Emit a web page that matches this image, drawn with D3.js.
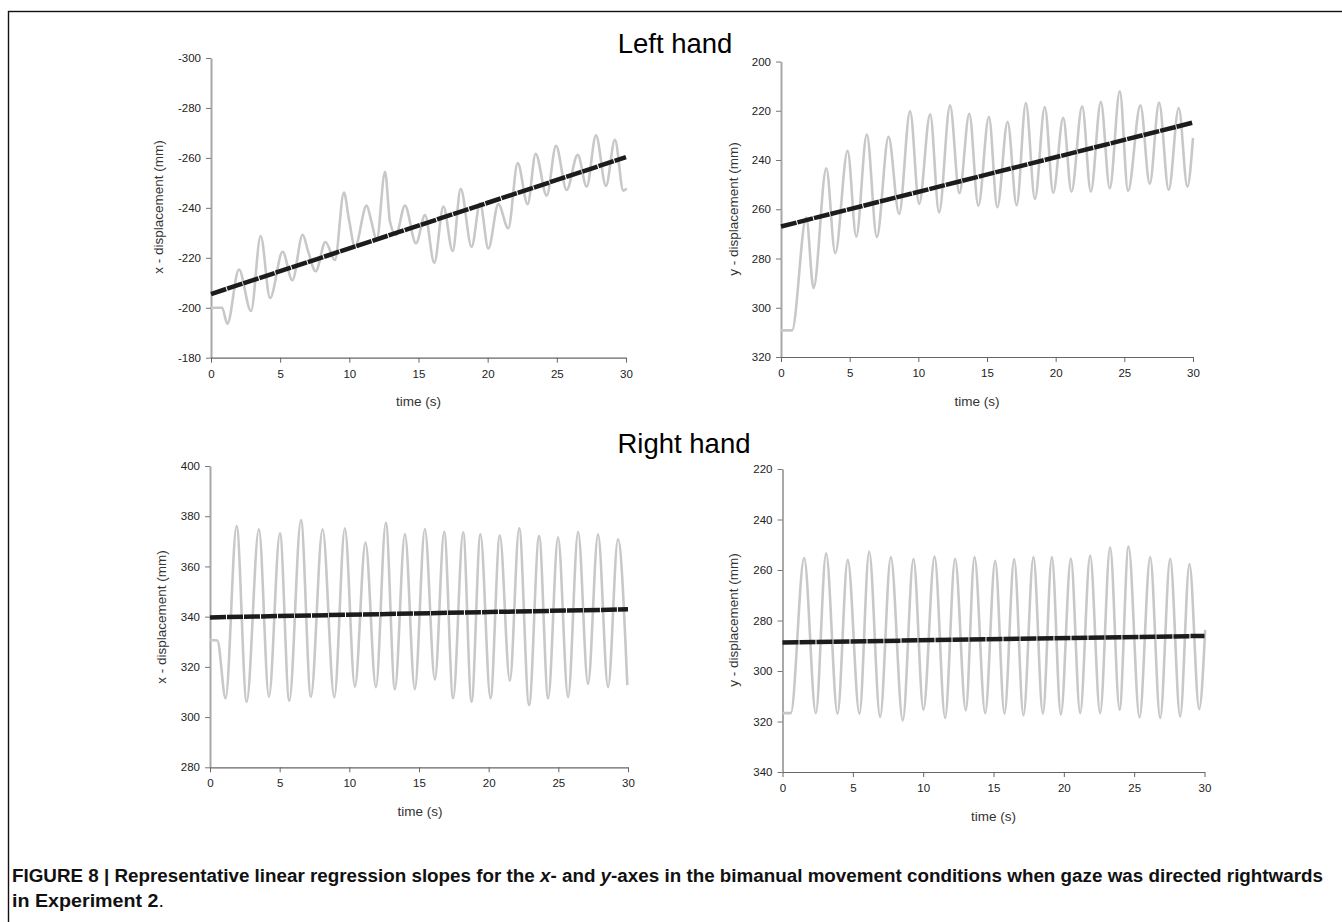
<!DOCTYPE html>
<html>
<head>
<meta charset="utf-8">
<script src="https://cdn.jsdelivr.net/npm/d3@7"></script>
<style>
  body { margin: 0; background: #fff; }
  svg text { font-family: "Liberation Sans", Arial, sans-serif; }
</style>
</head>
<body>
<div id="chart"></div>
<script>
// time ticks shared by all four panels
const timeTicks = [0, 5, 10, 15, 20, 25, 30];

const leftXTicks = [-300, -280, -260, -240, -220, -200, -180];
const leftYTicks = [200, 220, 240, 260, 280, 300, 320];
const rightXTicks = [400, 380, 360, 340, 320, 300, 280];
const rightYTicks = [220, 240, 260, 280, 300, 320, 340];

// raw displacement traces [time (s), mm] (peaks, troughs, shoulders)
const leftXTrace = [
  [0, -200], [0.8, -200], [1.18, -193.6], [2.02, -215.3], [2.89, -198.7], [3.59, -228.7],
  [4.27, -203.9], [5.18, -222.4], [5.88, -211], [6.63, -229.2], [7.0, -223], [7.57, -214.6],
  [8.27, -226.3], [8.96, -219.1], [9.61, -246.1], [9.98, -235.1], [10.41, -224.4], [11.25, -240.9],
  [11.6, -234.4], [11.98, -227.1], [12.58, -254.4], [12.94, -234.4], [13.37, -229.1], [14.02, -240.9],
  [14.82, -225.8], [15.47, -237.1], [16.14, -218], [16.8, -240.5], [17.47, -222.7], [18.05, -247.6],
  [18.84, -224.4], [19.45, -241.8], [20.05, -223.7], [20.77, -241.5], [21.49, -231.8], [22.17, -257.9],
  [22.89, -241.5], [23.47, -261.6], [24.27, -244.9], [24.94, -264.8], [25.71, -247.2], [26.51, -261.2],
  [27.16, -248.5], [27.83, -269], [28.55, -248.8], [29.2, -267.2], [29.81, -246.9], [30.05, -247.8]
];
const leftYTrace = [
  [0, 309.2], [0.8, 309.2], [1.84, 263.4], [2.37, 292], [3.3, 243.4], [3.95, 277.8], [4.85, 236.3],
  [5.48, 271.1], [6.25, 229.7], [6.98, 271.3], [7.83, 230.6], [8.6, 261.9], [9.4, 220.2], [10.06, 257.8],
  [10.86, 221.4], [11.51, 261.3], [12.31, 217.8], [12.99, 253.5], [13.71, 221.2], [14.37, 258.6],
  [15.14, 222.5], [15.75, 259.2], [16.5, 224.5], [17.16, 258.4], [17.83, 216.9], [18.49, 255.8],
  [19.21, 218.5], [19.82, 253.3], [20.55, 222.9], [21.15, 252.9], [21.93, 218.2], [22.56, 252.9],
  [23.29, 216.4], [23.94, 251.5], [24.67, 212.1], [25.27, 252.6], [26.17, 217.8], [26.85, 249.7],
  [27.53, 216.7], [28.23, 252.2], [28.96, 218.9], [29.59, 250.8], [30, 231]
];
const rightXTrace = [
  [0, 330.7], [0.53, 330.5], [1.12, 307.5], [1.91, 376.1], [2.63, 306.1], [3.51, 374.8], [4.23, 308.1],
  [5.02, 373.2], [5.69, 306.5], [6.53, 378.5], [7.24, 308.1], [8.08, 374.8], [8.92, 307.9], [9.68, 375.2],
  [10.4, 312.1], [11.16, 369.5], [11.91, 311.9], [12.62, 377.4], [13.27, 311.1], [13.99, 372.9],
  [14.7, 311.1], [15.42, 374.9], [16.14, 315], [16.81, 373.8], [17.45, 307.5], [18.17, 373.6],
  [18.77, 306.1], [19.41, 372.8], [20.13, 307.5], [20.8, 372.3], [21.52, 314.5], [22.19, 375.2],
  [22.9, 304.8], [23.62, 372.1], [24.27, 307.5], [24.98, 371.6], [25.7, 307.9], [26.42, 373.8],
  [27.13, 313.2], [27.85, 372.8], [28.57, 311.9], [29.28, 370.8], [29.95, 312.8]
];
const rightYTrace = [
  [0, 316.7], [0.59, 316.7], [1.54, 255.3], [2.37, 316.7], [3.1, 253.4], [3.91, 316.9], [4.64, 256],
  [5.47, 316.9], [6.16, 252.7], [6.94, 318.2], [7.7, 254.9], [8.55, 319.6], [9.31, 255.7], [10.02, 315.3],
  [10.81, 254.7], [11.56, 318.6], [12.27, 255.6], [13.03, 315.6], [13.65, 254.9], [14.41, 316.7],
  [15.12, 256.4], [15.78, 316.9], [16.47, 255.7], [17.13, 317.6], [17.84, 254.9], [18.51, 316.9],
  [19.15, 254.9], [19.79, 317.3], [20.5, 255.5], [21.16, 316.7], [21.87, 254.3], [22.58, 316.7],
  [23.29, 251], [23.96, 315.3], [24.6, 250.7], [25.38, 318.4], [26.14, 254.9], [26.85, 318.6],
  [27.56, 255.6], [28.27, 318], [28.93, 257.6], [29.62, 315.1], [30.05, 283.7]
];

// regression lines: [start, end]
const leftXFit = [[0, -205.5], [30, -260.3]];
const leftYFit = [[0, 267], [30, 224.8]];
const rightXFit = [[0, 339.7], [30, 342.9]];
const rightYFit = [[0, 288.7], [30, 286.1]];

const WIDTH = 1342, HEIGHT = 922;

const svg = d3.select('#chart').append('svg')
  .attr('width', WIDTH)
  .attr('height', HEIGHT);

// frame round the figure
svg.append('rect')
  .attr('x', 8.5).attr('y', 11.5)
  .attr('width', 1400).attr('height', 1000)
  .attr('fill', 'none').attr('stroke', '#111').attr('stroke-width', 1.4);

svg.append('text').attr('x', 675).attr('y', 53)
  .attr('text-anchor', 'middle').attr('font-size', 27.5).attr('fill', '#000')
  .text('Left hand');
svg.append('text').attr('x', 684).attr('y', 453)
  .attr('text-anchor', 'middle').attr('font-size', 27.5).attr('fill', '#000')
  .text('Right hand');

function drawPanel(p) {
  const x = d3.scaleLinear().domain([0, 30]).range([p.left, p.right]);
  const y = d3.scaleLinear().domain(p.domain).range([p.top, p.bottom]);

  const yAxis = svg.append('g')
    .attr('transform', `translate(${p.left},0)`)
    .call(d3.axisLeft(y).tickValues(p.ticks).tickFormat(d => String(d))
      .tickSize(5).tickSizeOuter(0).tickPadding(5));
  yAxis.select('.domain').attr('stroke', '#a8a8a8').attr('stroke-width', 2);
  yAxis.selectAll('.tick line').attr('stroke', '#777');
  yAxis.selectAll('text').attr('font-size', 11.5).attr('fill', '#222');

  const xAxis = svg.append('g')
    .attr('transform', `translate(0,${p.bottom})`)
    .call(d3.axisBottom(x).tickValues(timeTicks)
      .tickSize(5).tickSizeOuter(0).tickPadding(7));
  xAxis.select('.domain').attr('stroke', '#666').attr('stroke-width', 1.2);
  xAxis.selectAll('.tick line').attr('stroke', '#666');
  xAxis.selectAll('text').attr('font-size', 11.5).attr('fill', '#222');

  const line = d3.line()
    .x(d => x(d[0]))
    .y(d => y(d[1]));

  svg.append('path')
    .datum(p.trace)
    .attr('d', line.curve(d3.curveMonotoneX))
    .attr('fill', 'none')
    .attr('stroke', '#c8c8c8')
    .attr('stroke-width', 2.6);

  svg.append('path')
    .datum(p.fit)
    .attr('d', d3.line().x(d => x(d[0])).y(d => y(d[1])))
    .attr('fill', 'none')
    .attr('stroke', '#1c1c1c')
    .attr('stroke-width', 4.5)
    .attr('stroke-dasharray', '16,1');

  svg.append('text')
    .attr('x', (p.left + p.right) / 2 + p.xLabelShift)
    .attr('y', p.xLabelY)
    .attr('text-anchor', 'middle')
    .attr('font-size', 13.5).attr('fill', '#333')
    .text('time (s)');

  svg.append('text')
    .attr('transform', `translate(${p.yLabelX},${p.yLabelMid}) rotate(-90)`)
    .attr('text-anchor', 'middle')
    .attr('font-size', 13.5).attr('fill', '#333')
    .text(p.yLabel);
}

drawPanel({left: 211, right: 626, top: 58, bottom: 357.7, domain: [-300, -180], ticks: leftXTicks,
  trace: leftXTrace, fit: leftXFit, yLabel: 'x - displacement (mm)',
  xLabelY: 406, xLabelShift: 0, yLabelX: 163, yLabelMid: 207});
drawPanel({left: 781, right: 1193, top: 61.5, bottom: 357, domain: [200, 320], ticks: leftYTicks,
  trace: leftYTrace, fit: leftYFit, yLabel: 'y - displacement (mm)',
  xLabelY: 406, xLabelShift: -10, yLabelX: 738, yLabelMid: 209});
drawPanel({left: 210, right: 628, top: 466, bottom: 767.3, domain: [400, 280], ticks: rightXTicks,
  trace: rightXTrace, fit: rightXFit, yLabel: 'x - displacement (mm)',
  xLabelY: 816, xLabelShift: 1, yLabelX: 166, yLabelMid: 617});
drawPanel({left: 782.5, right: 1204.5, top: 469, bottom: 772, domain: [220, 340], ticks: rightYTicks,
  trace: rightYTrace, fit: rightYFit, yLabel: 'y - displacement (mm)',
  xLabelY: 821, xLabelShift: 0, yLabelX: 738, yLabelMid: 620});

// caption, squeezed to the narrow look of the original
const cap = svg.append('g')
  .attr('font-family', '"Liberation Sans Narrow", "Arial Narrow", "Liberation Sans", sans-serif')
  .attr('font-weight', 'bold').attr('font-size', 18).attr('fill', '#111');

const line1 = cap.append('text').attr('x', 12).attr('y', 882)
  .attr('textLength', 1311).attr('lengthAdjust', 'spacingAndGlyphs');
line1.append('tspan').text('FIGURE 8 | Representative linear regression slopes for the ');
line1.append('tspan').attr('font-style', 'italic').text('x');
line1.append('tspan').text('- and ');
line1.append('tspan').attr('font-style', 'italic').text('y');
line1.append('tspan').text('-axes in the bimanual movement conditions when gaze was directed rightwards');

const line2 = cap.append('text').attr('x', 12).attr('y', 907)
  .attr('textLength', 152).attr('lengthAdjust', 'spacingAndGlyphs');
line2.append('tspan').text('in Experiment 2');
line2.append('tspan').attr('font-weight', 'normal').text('.');
</script>
</body>
</html>
